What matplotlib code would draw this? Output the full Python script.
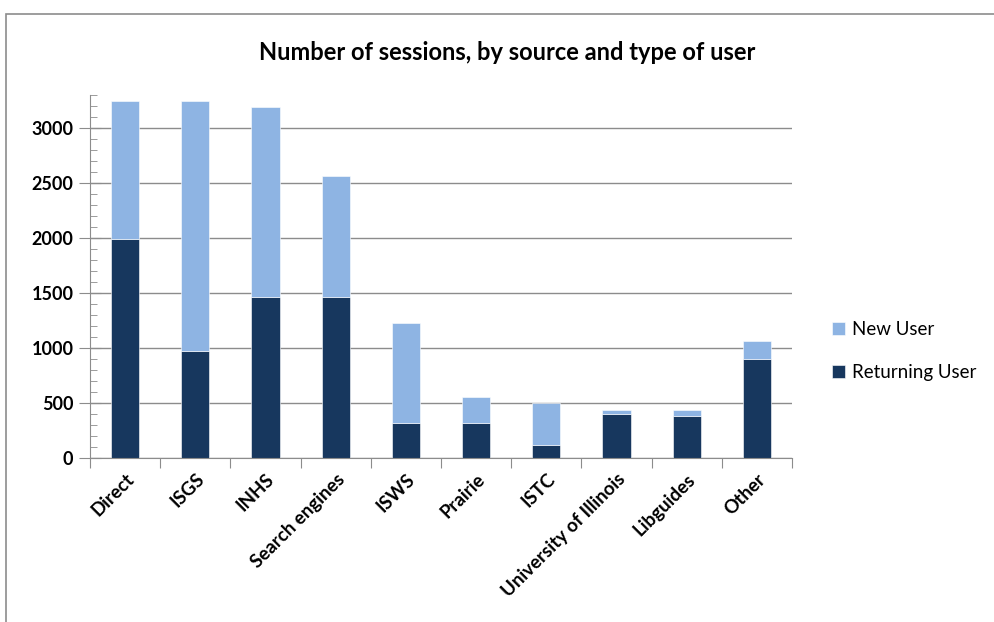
import numpy as np
import matplotlib.pyplot as plt
from matplotlib.patches import Rectangle
from matplotlib.ticker import MultipleLocator

# Daten
quellen = ['Direct', 'ISGS', 'INHS', 'Search engines', 'ISWS', 'Prairie',
           'ISTC', 'University of Illinois', 'Libguides', 'Other']
returning_user = [1990, 975, 1465, 1465, 322, 322, 121, 404, 379, 903]
new_user = [1258, 2273, 1726, 1097, 909, 231, 380, 34, 59, 164]

plt.rcParams['font.family'] = ['Lato', 'DejaVu Sans']

fig = plt.figure(figsize=(9.95, 6.22), dpi=100)
# grauer Rahmen um das Diagramm
fig.patches.append(Rectangle((6 / 995, -0.01), 1.0, 1 - 14 / 622 + 0.01,
                             transform=fig.transFigure, fill=False,
                             edgecolor='#8c8c8c', linewidth=1.2))

ax = fig.add_axes([90 / 995, 1 - 458 / 622, 702 / 995, 363 / 622])
x = np.arange(len(quellen))
ax.bar(x, returning_user, width=0.4, color='#17375E', label='Returning User',
       edgecolor='white', linewidth=0.4)
ax.bar(x, new_user, width=0.4, bottom=returning_user, color='#8EB4E3',
       label='New User', edgecolor='white', linewidth=0.4)

ax.set_xlim(-0.5, len(quellen) - 0.5)
ax.set_ylim(0, 3300)
ax.yaxis.set_major_locator(MultipleLocator(500))
ax.yaxis.set_minor_locator(MultipleLocator(100))
ax.set_axisbelow(True)
ax.grid(axis='y', which='major', color='#8c8c8c', linewidth=1)

for s in ['top', 'right']:
    ax.spines[s].set_visible(False)
for s in ['left', 'bottom']:
    ax.spines[s].set_color('#8c8c8c')

# x-Ticks an den Kategoriegrenzen, Beschriftungen in der Mitte
ax.set_xticks(np.arange(len(quellen) + 1) - 0.5)
ax.set_xticklabels([])
ax.set_xticks(x, minor=True)
ax.set_xticklabels(quellen, minor=True, rotation=45, ha='right',
                   rotation_mode='anchor', fontsize=13.5, fontweight='bold')
ax.tick_params(axis='x', which='minor', length=0, pad=9)
ax.tick_params(axis='x', which='major', length=7, color='#8c8c8c')
ax.tick_params(axis='y', which='major', direction='inout', length=16,
               color='#8c8c8c', labelsize=13, pad=4)
ax.tick_params(axis='y', which='minor', direction='in', length=5,
               color='#8c8c8c')
for lbl in ax.get_yticklabels():
    lbl.set_fontweight('bold')

fig.text(0.51, 1 - 52 / 622, 'Number of sessions, by source and type of user',
         ha='center', va='center', fontsize=17, fontweight='bold')

handles, labels = ax.get_legend_handles_labels()
fig.legend(handles[::-1], labels[::-1], loc='center left',
           bbox_to_anchor=(815 / 995, 1 - 351 / 622), frameon=False,
           fontsize=13.5, handlelength=0.7, handleheight=0.7,
           handletextpad=0.35, labelspacing=1.35)

fig.savefig('out.png', dpi=100)
